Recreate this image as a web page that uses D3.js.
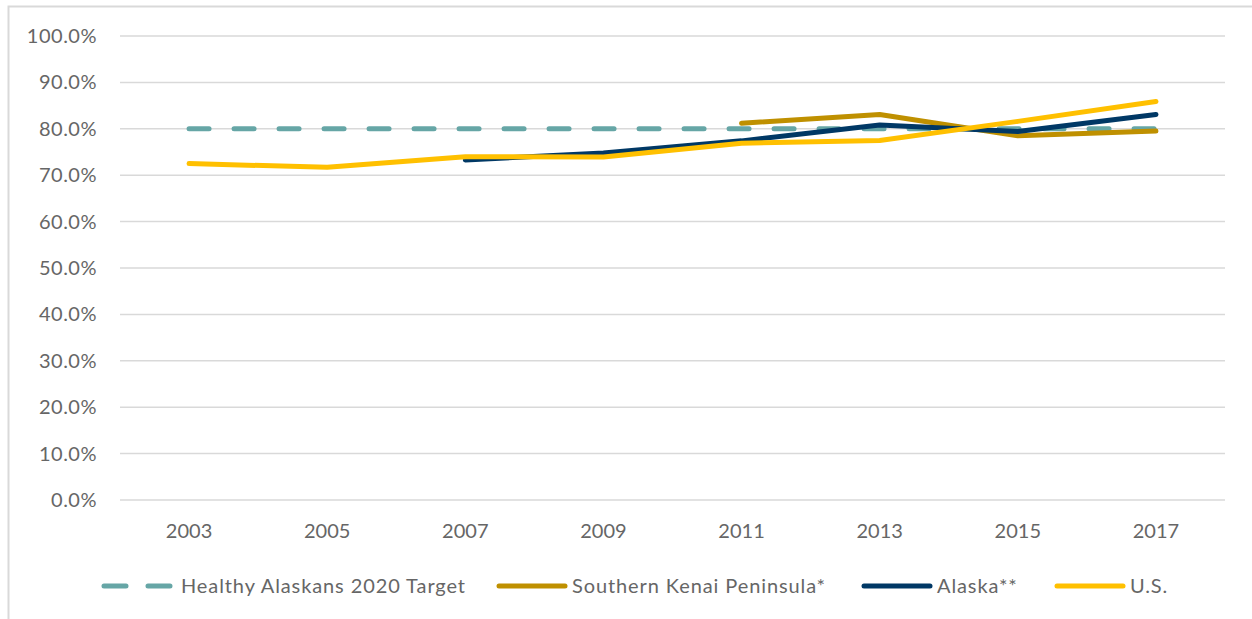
<!DOCTYPE html>
<html>
<head>
<meta charset="utf-8">
<script src="https://cdn.jsdelivr.net/npm/d3@7"></script>
<style>
  html, body { margin: 0; padding: 0; background: #fff; }
  svg { display: block; }
  text { font-family: Lato, "Open Sans", sans-serif; fill: #666666; }
</style>
</head>
<body>
<svg id="chart" width="1252" height="619"></svg>
<script>
// Survey years and percentage values by series (null = no data)
const years = ["2003", "2005", "2007", "2009", "2011", "2013", "2015", "2017"];
const target = [80.0, 80.0, 80.0, 80.0, 80.0, 80.0, 80.0, 80.0];
const kenai  = [null, null, null, null, 81.2, 83.1, 78.5, 79.5];
const alaska = [null, null, 73.3, 74.8, 77.4, 80.8, 79.4, 83.1];
const us     = [72.5, 71.7, 74.0, 73.9, 76.9, 77.5, 81.6, 85.9];
const yTicks = [0, 10, 20, 30, 40, 50, 60, 70, 80, 90, 100];

const seriesList = [
  { name: "Healthy Alaskans 2020 Target", values: target, color: "#66A6A6", dash: true },
  { name: "Southern Kenai Peninsula*", values: kenai, color: "#BF9000" },
  { name: "Alaska**", values: alaska, color: "#003865" },
  { name: "U.S.", values: us, color: "#FFC000" }
];

const svg = d3.select("#chart");
const margin = { left: 120, right: 27, top: 36, bottom: 119 };
const W = 1252, H = 619;

// outer chart frame
svg.append("rect")
  .attr("x", 8.5).attr("y", 6.5)
  .attr("width", 1260).attr("height", 640)
  .attr("fill", "none").attr("stroke", "#d9d9d9").attr("stroke-width", 2);

const x = d3.scaleBand().domain(years).range([margin.left, W - margin.right]);
const y = d3.scaleLinear().domain([0, 100]).range([H - margin.bottom, margin.top]);

// horizontal gridlines
svg.append("g")
  .selectAll("line").data(yTicks).join("line")
  .attr("x1", margin.left).attr("x2", W - margin.right)
  .attr("y1", d => y(d)).attr("y2", d => y(d))
  .attr("stroke", "#d9d9d9").attr("stroke-width", 1.5);

// y axis labels
const yAxis = d3.axisLeft(y).tickValues(yTicks).tickSize(0).tickPadding(0)
  .tickFormat(d => d.toFixed(1) + "%");
svg.append("g")
  .attr("transform", `translate(97,0)`)
  .call(yAxis)
  .call(g => g.select(".domain").remove())
  .selectAll("text")
  .style("font-family", "Lato, sans-serif")
  .style("font-size", "20px")
  .style("letter-spacing", "0.5px")
  .attr("fill", "#666666");

// x axis labels
const xAxis = d3.axisBottom(x).tickSize(0).tickPadding(0);
svg.append("g")
  .attr("transform", `translate(0,${H - margin.bottom + 24})`)
  .call(xAxis)
  .call(g => g.select(".domain").remove())
  .selectAll("text")
  .style("font-family", "Lato, sans-serif")
  .style("font-size", "20px")
  .attr("fill", "#666666");

const cx = d => x(d) + x.bandwidth() / 2;

const line = d3.line()
  .defined(d => d.v !== null)
  .x(d => cx(d.year))
  .y(d => y(d.v));

svg.append("g")
  .selectAll("path").data(seriesList).join("path")
  .attr("d", s => line(years.map((yr, i) => ({ year: yr, v: s.values[i] }))))
  .attr("fill", "none")
  .attr("stroke", s => s.color)
  .attr("stroke-width", 5)
  .attr("stroke-linejoin", "round")
  .attr("stroke-linecap", "round")
  .attr("stroke-dasharray", s => s.dash ? "20 25" : null);

// legend
const legendY = 586;
const legendX = [102, 497, 862, 1055];
const lg = svg.append("g")
  .selectAll("g").data(seriesList).join("g")
  .attr("transform", (s, i) => `translate(${legendX[i]},${legendY})`);
lg.append("line")
  .attr("x1", 2).attr("x2", 68)
  .attr("y1", 0).attr("y2", 0)
  .attr("stroke", s => s.color)
  .attr("stroke-width", 5)
  .attr("stroke-linecap", "round")
  .attr("stroke-dasharray", s => s.dash ? "22 22" : null);
lg.append("text")
  .attr("x", (s, i) => s.dash ? 79 : 75)
  .attr("y", 0)
  .attr("dy", "0.35em")
  .style("font-size", "20px")
  .style("letter-spacing", "0.9px")
  .text(s => s.name);
</script>
</body>
</html>
